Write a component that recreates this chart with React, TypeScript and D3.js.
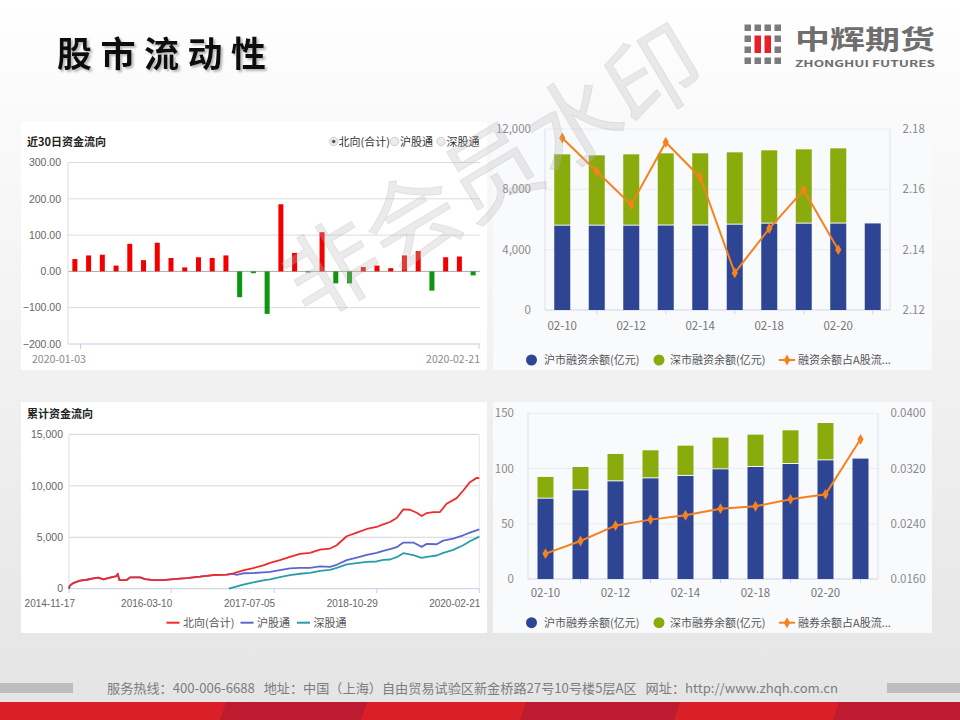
import React from "react";
import * as d3 from "d3";

const FONT = "'Noto Sans CJK SC', 'Noto Sans', sans-serif";
const NUMF = "'Liberation Sans', Arial, 'Noto Sans CJK SC', sans-serif";

// ---------- Chart 1: 近30日资金流向 ----------
const flowDays = [
  "2020-01-03", "2020-01-06", "2020-01-07", "2020-01-08", "2020-01-09", "2020-01-10",
  "2020-01-13", "2020-01-14", "2020-01-15", "2020-01-16", "2020-01-17", "2020-01-20",
  "2020-01-21", "2020-01-22", "2020-01-23", "2020-02-03", "2020-02-04", "2020-02-05",
  "2020-02-06", "2020-02-07", "2020-02-10", "2020-02-11", "2020-02-12", "2020-02-13",
  "2020-02-14", "2020-02-17", "2020-02-18", "2020-02-19", "2020-02-20", "2020-02-21",
];
const flowValues = [
  34, 44, 46, 16, 76, 31, 79, 37, 11, 39, 37, 44, -71, -5, -117,
  185, 51, -3, 108, -33, -33, 12, 16, 9, 44, 56, -53, 39, 41, -11,
];
const flowYTicks = [-200, -100, 0, 100, 200, 300];
const flowLegend = ["北向(合计)", "沪股通", "深股通"];

// ---------- Chart 2: 融资余额 ----------
const marginDays = ["02-10", "02-11", "02-12", "02-13", "02-14", "02-17", "02-18", "02-19", "02-20", "02-21"];
const marginLabelDays = ["02-10", "02-12", "02-14", "02-18", "02-20"];
const shFinancing = [5590, 5590, 5590, 5600, 5600, 5657, 5724, 5724, 5730, 5740];
const szFinancing = [4730, 4664, 4730, 4787, 4787, 4796, 4862, 4928, 4988, null];
const financingRatio = [2.177, 2.1659, 2.1549, 2.1756, 2.164, 2.1323, 2.147, 2.1598, 2.14, null];
const finLeftTicks = [0, 4000, 8000, 12000];
const finRightTicks = [2.12, 2.14, 2.16, 2.18];
const finLegend = ["沪市融资余额(亿元)", "深市融资余额(亿元)", "融资余额占A股流..."];

// ---------- Chart 3: 累计资金流向 ----------
const cumTickDates = ["2014-11-17", "2016-03-10", "2017-07-05", "2018-10-29", "2020-02-21"];
const northDates = [
  "2014-11-17", "2014-11-21", "2014-12-07", "2015-01-07", "2015-02-08", "2015-03-11", "2015-04-03",
  "2015-04-27", "2015-05-28", "2015-06-28", "2015-07-03", "2015-07-11", "2015-08-14", "2015-08-30",
  "2015-10-16", "2015-11-08", "2015-12-17", "2016-02-02", "2016-03-20", "2016-05-21", "2016-07-23",
  "2016-09-23", "2016-11-25", "2016-12-26", "2017-02-10", "2017-03-29", "2017-05-15", "2017-06-16",
  "2017-08-01", "2017-09-17", "2017-11-03", "2017-12-20", "2018-02-05", "2018-03-24", "2018-04-24",
  "2018-06-10", "2018-07-27", "2018-09-12", "2018-10-28", "2018-11-28", "2018-12-30", "2019-01-30",
  "2019-03-02", "2019-04-02", "2019-05-04", "2019-05-27", "2019-06-20", "2019-07-21", "2019-08-21",
  "2019-09-21", "2019-11-07", "2019-12-08", "2020-01-08", "2020-02-09", "2020-02-21",
];
const northValues = [
  0, 300, 550, 780, 870, 1000, 1080,
  900, 1070, 1230, 1450, 840, 840, 1100,
  1100, 940, 840, 840, 940, 1035, 1165,
  1330, 1360, 1490, 1780, 2000, 2265, 2516,
  2774, 3097, 3387, 3484, 3806, 3903, 4226,
  5097, 5452, 5806, 6000, 6258, 6484, 6871,
  7710, 7677, 7387, 7065, 7355, 7452, 7452,
  8258, 8806, 9548, 10355, 10774, 10742,
];
const huDates = [
  "2014-11-17", "2014-11-21", "2014-12-07", "2015-01-07", "2015-02-08", "2015-03-11", "2015-04-03",
  "2015-04-27", "2015-05-28", "2015-06-28", "2015-07-03", "2015-07-11", "2015-08-14", "2015-08-30",
  "2015-10-16", "2015-11-08", "2015-12-17", "2016-02-02", "2016-03-20", "2016-05-21", "2016-07-23",
  "2016-09-23", "2016-11-25", "2016-12-26", "2017-01-11", "2017-02-10", "2017-03-29", "2017-05-15",
  "2017-06-16", "2017-08-01", "2017-09-17", "2017-11-03", "2017-12-20", "2018-02-05", "2018-03-24",
  "2018-04-24", "2018-06-10", "2018-07-27", "2018-09-12", "2018-10-28", "2018-11-28", "2018-12-30",
  "2019-01-30", "2019-03-02", "2019-04-18", "2019-05-27", "2019-06-20", "2019-08-05", "2019-09-05",
  "2019-10-22", "2019-12-08", "2020-01-08", "2020-02-21",
];
const huValues = [
  0, 300, 550, 780, 870, 1000, 1080,
  900, 1070, 1230, 1450, 840, 840, 1100,
  1100, 940, 840, 840, 940, 1035, 1165,
  1330, 1360, 1440, 1350, 1500, 1520, 1590,
  1645, 1806, 1968, 2032, 2032, 2161, 2129,
  2323, 2774, 3032, 3290, 3484, 3677, 3839,
  4032, 4484, 4484, 4065, 4355, 4323, 4677,
  4871, 5194, 5452, 5774,
];
const szDates = [
  "2016-12-05", "2017-02-10", "2017-03-29", "2017-05-15", "2017-06-16", "2017-08-01", "2017-09-17",
  "2017-11-03", "2017-12-20", "2018-02-05", "2018-03-24", "2018-04-24", "2018-06-10", "2018-07-27",
  "2018-09-12", "2018-10-28", "2018-11-28", "2018-12-30", "2019-01-30", "2019-03-02", "2019-04-18",
  "2019-05-27", "2019-06-20", "2019-08-05", "2019-09-05", "2019-10-22", "2019-12-08", "2020-01-08",
  "2020-02-21",
];
const szValues = [
  0, 390, 610, 800, 903, 1129, 1323,
  1452, 1548, 1742, 1839, 2032, 2355, 2484,
  2613, 2645, 2806, 2839, 3065, 3452, 3258,
  3000, 3097, 3226, 3484, 3774, 4226, 4613,
  5065,
];
const cumYTicks = [0, 5000, 10000, 15000];
const cumLegend = ["北向(合计)", "沪股通", "深股通"];

// ---------- Chart 4: 融券余额 ----------
const shLending = [72.7, 80.3, 88.4, 91.1, 93.3, 99.3, 101.4, 104.1, 107.4, 109.0];
const szLending = [19.7, 21.1, 24.8, 25.4, 27.4, 28.7, 29.3, 30.5, 33.8, null];
const lendingRatio = [0.01967, 0.0215, 0.02373, 0.0246, 0.02522, 0.02619, 0.02653, 0.02754, 0.02827, 0.03623];
const lendLeftTicks = [0, 50, 100, 150];
const lendRightTicks = [0.016, 0.024, 0.032, 0.04];
const lendLegend = ["沪市融券余额(亿元)", "深市融券余额(亿元)", "融券余额占A股流..."];

const BLUE = "#2e4593";
const GREEN = "#8aab0c";
const ORANGE = "#f5821f";

function FlowPanel() {
  const x = d3.scaleBand<string>().domain(flowDays).range([68, 480]);
  const y = d3.scaleLinear().domain([-200, 300]).range([344, 162.5]);
  const bw = 5;
  const radio = [333.7, 394.5, 441];
  const radioText = [338.5, 400, 446.5];
  return (
    <g>
      <rect x={21} y={122} width={466} height={248} fill="#fff" />
      <text x={27} y={146} fontSize={11} fontWeight="bold" fill="#222" fontFamily={FONT}>近30日资金流向</text>
      {flowLegend.map((t, i) => (
        <g key={t}>
          <circle cx={radio[i]} cy={141.5} r={4.2} fill="#ececec" stroke="#c4c4c4" strokeWidth={0.8} />
          {i === 0 && <circle cx={radio[i]} cy={141.5} r={1.8} fill="#555" />}
          <text x={radioText[i]} y={145.5} fontSize={11} fill="#333" fontFamily={FONT}>{t}</text>
        </g>
      ))}
      {flowYTicks.map((t) => (
        <g key={t}>
          <line x1={68} x2={480} y1={y(t)} y2={y(t)}
            stroke={t === 0 ? "#a9a9a9" : t === -200 ? "#c4cfe2" : "#d9dce3"} strokeWidth={1} />
          <text x={61} y={y(t)} dy="0.36em" textAnchor="end" fontSize={10.5} fill="#666" fontFamily={NUMF}>
            {d3.format(".2f")(t)}
          </text>
        </g>
      ))}
      <line x1={68} x2={68} y1={162.5} y2={344} stroke="#d9dce3" />
      {flowDays.map((d, i) => {
        const v = flowValues[i];
        const cx = (x(d) as number) + x.bandwidth() / 2;
        return (
          <rect key={d} x={cx - bw / 2} width={bw} y={Math.min(y(v), y(0))}
            height={Math.abs(y(v) - y(0))} fill={v >= 0 ? "#f20000" : "#0f960f"} />
        );
      })}
      <line x1={80.5} x2={80.5} y1={344} y2={349} stroke="#c4cfe2" />
      <line x1={479} x2={479} y1={344} y2={349} stroke="#c4cfe2" />
      <text x={32} y={363} fontSize={10.5} fill="#8a8a8a" fontFamily={FONT}>{flowDays[0]}</text>
      <text x={480} y={363} textAnchor="end" fontSize={10.5} fill="#8a8a8a" fontFamily={FONT}>
        {flowDays[flowDays.length - 1]}
      </text>
    </g>
  );
}

function StackPanel(props: {
  top: number; height: number; plotL: number; plotR: number; plotT: number; plotB: number;
  lower: number[]; upper: (number | null)[]; ratio: (number | null)[];
  leftTicks: number[]; rightTicks: number[]; leftMax: number; rightDom: [number, number];
  leftFmt: (v: number) => string; rightFmt: (v: number) => string;
  labelY: number; legendY: number; legend: string[];
}) {
  const p = props;
  const x = d3.scaleBand<string>().domain(marginDays).range([p.plotL, p.plotR]);
  const y = d3.scaleLinear().domain([0, p.leftMax]).range([p.plotB, p.plotT]);
  const yr = d3.scaleLinear().domain(p.rightDom).range([p.plotB, p.plotT]);
  const bw = 16;
  const cx = (d: string) => (x(d) as number) + x.bandwidth() / 2;
  const pts = marginDays.map((d, i) => ({ d, v: p.ratio[i] }));
  const line = d3.line<{ d: string; v: number | null }>()
    .defined((q) => q.v != null)
    .x((q) => cx(q.d))
    .y((q) => yr(q.v as number));
  const diamond = d3.symbol().type(d3.symbolDiamond).size(34)();
  return (
    <g>
      <rect x={493} y={p.top} width={439} height={p.height} fill="#f9fafc" />
      {p.leftTicks.map((t, i) => (
        <g key={t}>
          <line x1={p.plotL} x2={p.plotR} y1={y(t)} y2={y(t)} stroke={i === 0 ? "#ccd5e6" : "#e8ecf3"} />
          <text x={p.plotL - 14} y={y(t)} dy="0.36em" textAnchor="end" fontSize={11.5} fill="#8a8a8a" fontFamily={FONT}>
            {p.leftFmt(t)}
          </text>
        </g>
      ))}
      {p.rightTicks.map((t) => (
        <text key={t} x={p.plotR + 12.5} y={yr(t)} dy="0.36em" fontSize={11.5} fill="#8a8a8a" fontFamily={FONT}>
          {p.rightFmt(t)}
        </text>
      ))}
      <line x1={p.plotL} x2={p.plotL} y1={p.plotT} y2={p.plotB} stroke="#dbe1ec" />
      <line x1={p.plotR} x2={p.plotR} y1={p.plotT} y2={p.plotB} stroke="#dbe1ec" />
      {marginDays.map((d, i) => {
        const lo = p.lower[i];
        const up = p.upper[i];
        return (
          <g key={d}>
            <rect x={cx(d) - bw / 2} width={bw} y={y(lo)} height={y(0) - y(lo)} fill={BLUE} />
            {up != null && (
              <rect x={cx(d) - bw / 2} width={bw} y={y(lo + up)} height={y(lo) - y(lo + up) - 1} fill={GREEN} />
            )}
            {i % 2 === 1 && <line x1={cx(d)} x2={cx(d)} y1={p.plotB} y2={p.plotB + 4} stroke="#ccd5e6" />}
          </g>
        );
      })}
      {marginLabelDays.map((d) => (
        <text key={d} x={cx(d)} y={p.labelY} dy="0.36em" textAnchor="middle" fontSize={11.5} fill="#777" fontFamily={FONT}>
          {d}
        </text>
      ))}
      <path d={line(pts) || ""} fill="none" stroke={ORANGE} strokeWidth={2} />
      {pts.filter((q) => q.v != null).map((q) => (
        <path key={q.d} d={diamond || ""} transform={`translate(${cx(q.d)},${yr(q.v as number)})`} fill={ORANGE} />
      ))}
      <circle cx={531.5} cy={p.legendY} r={5.5} fill={BLUE} />
      <text x={544} y={p.legendY} dy="0.36em" fontSize={11} fill="#555" fontFamily={FONT}>{p.legend[0]}</text>
      <circle cx={659} cy={p.legendY} r={5.5} fill={GREEN} />
      <text x={670} y={p.legendY} dy="0.36em" fontSize={11} fill="#555" fontFamily={FONT}>{p.legend[1]}</text>
      <line x1={779} x2={795} y1={p.legendY} y2={p.legendY} stroke={ORANGE} strokeWidth={2} />
      <path d={diamond || ""} transform={`translate(787,${p.legendY})`} fill={ORANGE} />
      <text x={798} y={p.legendY} dy="0.36em" fontSize={11} fill="#555" fontFamily={FONT}>{p.legend[2]}</text>
    </g>
  );
}

function CumPanel() {
  const parse = d3.timeParse("%Y-%m-%d");
  const x = d3.scaleTime()
    .domain([parse(cumTickDates[0]) as Date, parse(cumTickDates[cumTickDates.length - 1]) as Date])
    .range([69, 479.3]);
  const y = d3.scaleLinear().domain([0, 15000]).range([588.7, 434.4]);
  const mk = (ds: string[], vs: number[]) => ds.map((d, i) => [x(parse(d) as Date), y(vs[i])] as [number, number]);
  const line = d3.line();
  const series = [
    { pts: mk(szDates, szValues), color: "#2b9caa" },
    { pts: mk(huDates, huValues), color: "#5a67cc" },
    { pts: mk(northDates, northValues), color: "#ef2b2b" },
  ];
  const legX = [166.5, 240.5, 297];
  const legColors = ["#ef2b2b", "#5a67cc", "#2b9caa"];
  return (
    <g>
      <rect x={21} y={402} width={466} height={231} fill="#fff" />
      <text x={27} y={418} fontSize={11} fontWeight="bold" fill="#222" fontFamily={FONT}>累计资金流向</text>
      {cumYTicks.map((t, i) => (
        <g key={t}>
          <line x1={69} x2={479.3} y1={y(t)} y2={y(t)} stroke={i === 0 ? "#c4cfe2" : "#d4d6dc"} />
          <text x={63} y={y(t)} dy="0.36em" textAnchor="end" fontSize={10.5} fill="#666" fontFamily={NUMF}>
            {d3.format(",")(t)}
          </text>
        </g>
      ))}
      <line x1={69} x2={69} y1={434.4} y2={588.7} stroke="#dadde3" />
      <line x1={479.3} x2={479.3} y1={434.4} y2={588.7} stroke="#e3e5ea" />
      {cumTickDates.map((d, i) => {
        const tx = x(parse(d) as Date);
        return (
          <g key={d}>
            <line x1={tx} x2={tx} y1={588.7} y2={593} stroke="#c4cfe2" />
            <text x={i === 0 ? tx + 6 : tx + 1} y={603} dy="0.36em" textAnchor="end" fontSize={10} fill="#666" fontFamily={NUMF}>{d}</text>
          </g>
        );
      })}
      {series.map((s, i) => (
        <path key={i} d={line(s.pts) || ""} fill="none" stroke={s.color} strokeWidth={1.8} strokeLinejoin="round" />
      ))}
      {cumLegend.map((t, i) => (
        <g key={t}>
          <line x1={legX[i]} x2={legX[i] + 13} y1={622.7} y2={622.7} stroke={legColors[i]} strokeWidth={2} />
          <text x={legX[i] + 16.5} y={622.7} dy="0.36em" fontSize={11} fill="#555" fontFamily={FONT}>{t}</text>
        </g>
      ))}
    </g>
  );
}

function Header() {
  const cols = [744.5, 754.5, 764.5, 774.5];
  const rows = [24.5, 35.5, 46.5, 57.5];
  return (
    <g>
      <text x={57} y={67} fontSize={35} fontWeight={700} fill="#111" letterSpacing={8.5}
        fontFamily={FONT} filter="url(#tshadow)">股市流动性</text>
      {rows.map((ry, ri) =>
        cols.map((cx, ci) => {
          const red = (ri === 1 || ri === 2) && (ci === 1 || ci === 2);
          if (red) return null;
          return <rect key={`${ri}-${ci}`} x={cx} y={ry} width={6.5} height={6.5} fill="#7b7b7b" />;
        })
      )}
      <rect x={cols[1]} y={rows[1]} width={6.5} height={17.5} fill="#e4202a" />
      <rect x={cols[2]} y={rows[1]} width={6.5} height={17.5} fill="#e4202a" />
      <text x={795} y={48.5} fontSize={26} fontWeight="bold" fill="#6e6e6e" textLength={140} lengthAdjust="spacingAndGlyphs" fontFamily={FONT}>中辉期货</text>
      <text x={795} y={66.5} fontSize={9} fontWeight="bold" fill="#6e6e6e" textLength={140} lengthAdjust="spacingAndGlyphs" fontFamily={FONT}>ZHONGHUI FUTURES</text>
    </g>
  );
}

function Footer() {
  const darks = [[220, 361], [520, 674], [833, 966]];
  return (
    <g>
      <rect x={0} y={683} width={73} height={10} fill="#bdbdbd" />
      <rect x={887} y={683} width={73} height={10} fill="#bdbdbd" />
      <text x={107} y={693} fontSize={13} fill="#7d7d7d" textLength={731} lengthAdjust="spacingAndGlyphs"
        fontFamily={FONT} style={{ whiteSpace: "pre" }}>
        {"服务热线：400-006-6688   地址：中国（上海）自由贸易试验区新金桥路27号10号楼5层A区   网址：http://www.zhqh.com.cn"}
      </text>
      <rect x={0} y={702} width={960} height={18} fill="#d91f27" />
      {darks.map(([a, b], i) => (
        <path key={i} d={`M${a + 6},702 L${b + 6},702 L${b},720 L${a},720 Z`} fill="#bd1b2f" />
      ))}
    </g>
  );
}

export default function App() {
  return (
    <svg width={960} height={720} viewBox="0 0 960 720"
      style={{ position: "absolute", left: 0, top: 0, display: "block" }}>
      <defs>
        <linearGradient id="bg" x1="0" y1="0" x2="0" y2="1">
          <stop offset="0" stopColor="#ffffff" />
          <stop offset="0.15" stopColor="#fafafa" />
          <stop offset="0.55" stopColor="#f0f0f0" />
          <stop offset="1" stopColor="#e4e4e4" />
        </linearGradient>
        <filter id="tshadow" x="-10%" y="-20%" width="130%" height="150%">
          <feDropShadow dx="2" dy="2" stdDeviation="1" floodColor="#999" floodOpacity="0.7" />
        </filter>
      </defs>
      <rect x={0} y={0} width={960} height={720} fill="url(#bg)" />
      <Header />
      <FlowPanel />
      <StackPanel top={117} height={253} plotL={545} plotR={890} plotT={129} plotB={310}
        lower={shFinancing} upper={szFinancing} ratio={financingRatio}
        leftTicks={finLeftTicks} rightTicks={finRightTicks} leftMax={12000} rightDom={[2.12, 2.18]}
        leftFmt={d3.format(",")} rightFmt={d3.format(".2f")}
        labelY={326} legendY={360} legend={finLegend} />
      <CumPanel />
      <StackPanel top={402} height={231} plotL={528} plotR={878} plotT={413.3} plotB={579}
        lower={shLending} upper={szLending} ratio={lendingRatio}
        leftTicks={lendLeftTicks} rightTicks={lendRightTicks} leftMax={150} rightDom={[0.016, 0.04]}
        leftFmt={d3.format("")} rightFmt={d3.format(".4f")}
        labelY={593} legendY={622.7} legend={lendLegend} />
      <text x={0} y={0} transform="translate(489,166) rotate(-31)" textAnchor="middle" dominantBaseline="central"
        fontSize={94} fill="#bdbdbd" fillOpacity={0.3} stroke="#a0a0a0" strokeOpacity={0.2} strokeWidth={1}
        fontFamily={FONT}>
        非会员水印
      </text>
      <Footer />
    </svg>
  );
}
